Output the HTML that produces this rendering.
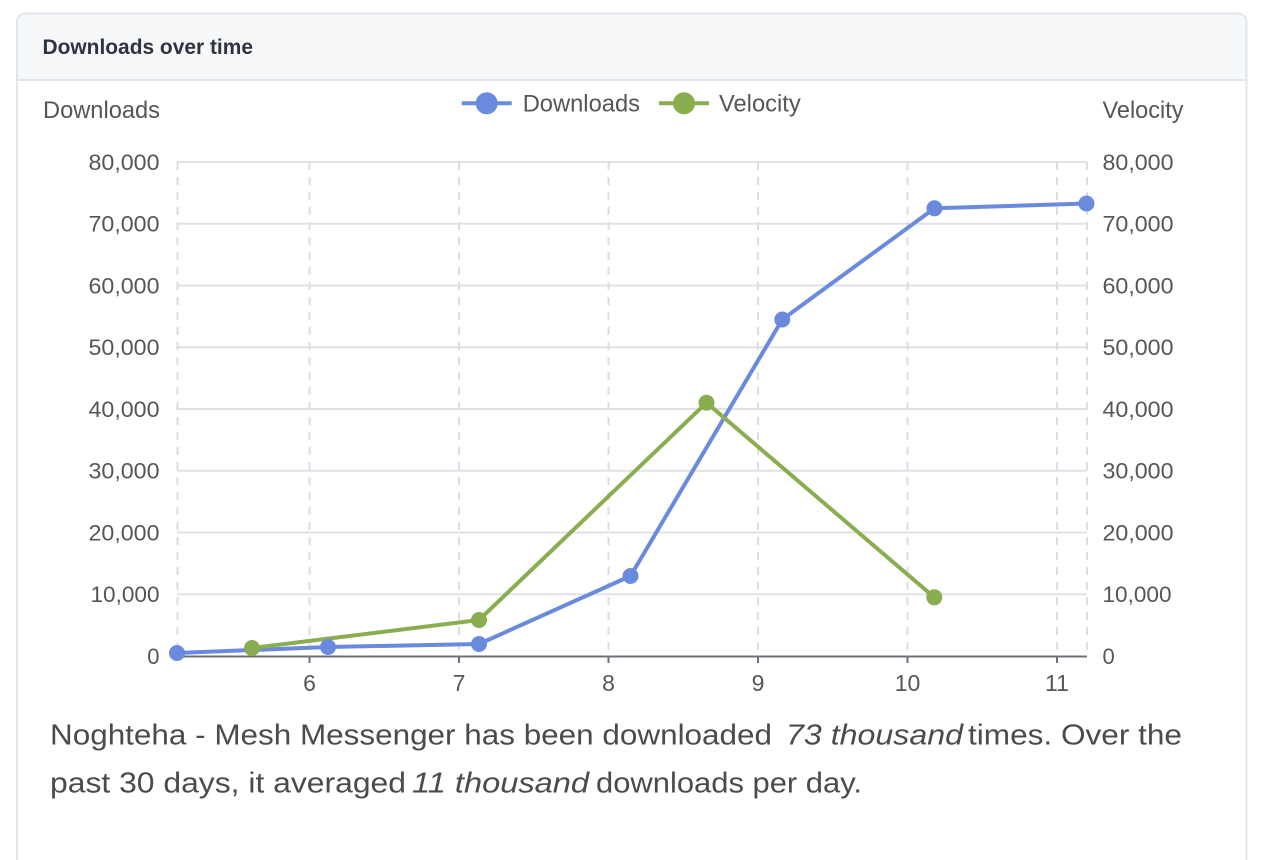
<!DOCTYPE html>
<html>
<head>
<meta charset="utf-8">
<style>
  html,body{margin:0;padding:0;background:#ffffff;}
  body{width:1272px;height:860px;overflow:hidden;}
  svg{display:block;}
  text{font-family:"Liberation Sans", Arial, sans-serif;}
</style>
</head>
<body>
<svg width="1272" height="860" viewBox="0 0 1272 860" xmlns="http://www.w3.org/2000/svg">
  <!-- card -->
  <path d="M17,880 L17,23 Q17,13.5 27,13.5 L1236,13.5 Q1246.5,13.5 1246.5,23 L1246.5,880" fill="#ffffff" stroke="#e1e5ec" stroke-width="2"/>
  <path d="M18,79 L18,23 Q18,14.5 27,14.5 L1236,14.5 Q1245.5,14.5 1245.5,23 L1245.5,79 Z" fill="#f7f8fa"/>
  <line x1="17" y1="80" x2="1246.5" y2="80" stroke="#e1e5ec" stroke-width="2"/>
  <text x="42.5" y="54" font-size="21" font-weight="bold" fill="#2b3441" textLength="210.5" lengthAdjust="spacingAndGlyphs">Downloads over time</text>

  <!-- axis names -->
  <text x="43" y="118" font-size="24" fill="#555659" textLength="117" lengthAdjust="spacingAndGlyphs">Downloads</text>
  <text x="1102.5" y="118" font-size="24" fill="#555659" textLength="81" lengthAdjust="spacingAndGlyphs">Velocity</text>

  <!-- legend -->
  <line x1="461.7" y1="103.3" x2="511.7" y2="103.3" stroke="#6a8ade" stroke-width="4"/>
  <circle cx="486.7" cy="103.3" r="11" fill="#6a8ade"/>
  <text x="522.7" y="111.5" font-size="24" fill="#555659" textLength="117.3" lengthAdjust="spacingAndGlyphs">Downloads</text>
  <line x1="659" y1="103.3" x2="709" y2="103.3" stroke="#8aad50" stroke-width="4"/>
  <circle cx="684" cy="103.3" r="11" fill="#8aad50"/>
  <text x="719" y="111.5" font-size="24" fill="#555659" textLength="81.7" lengthAdjust="spacingAndGlyphs">Velocity</text>

  <!-- horizontal grid -->
  <g stroke="#e0e2e8" stroke-width="2">
    <line x1="177" y1="162" x2="1087" y2="162"/>
    <line x1="177" y1="223.75" x2="1087" y2="223.75"/>
    <line x1="177" y1="285.5" x2="1087" y2="285.5"/>
    <line x1="177" y1="347.25" x2="1087" y2="347.25"/>
    <line x1="177" y1="409" x2="1087" y2="409"/>
    <line x1="177" y1="470.75" x2="1087" y2="470.75"/>
    <line x1="177" y1="532.5" x2="1087" y2="532.5"/>
    <line x1="177" y1="594.25" x2="1087" y2="594.25"/>
  </g>
  <!-- vertical dashed grid -->
  <g stroke="#dcdee4" stroke-width="2" stroke-dasharray="8,7">
    <line x1="177.5" y1="162" x2="177.5" y2="656"/>
    <line x1="309.5" y1="162" x2="309.5" y2="656"/>
    <line x1="459" y1="162" x2="459" y2="656"/>
    <line x1="608.5" y1="162" x2="608.5" y2="656"/>
    <line x1="758" y1="162" x2="758" y2="656"/>
    <line x1="907.5" y1="162" x2="907.5" y2="656"/>
    <line x1="1057" y1="162" x2="1057" y2="656"/>
    <line x1="1087" y1="162" x2="1087" y2="656"/>
  </g>
  <!-- x axis -->
  <line x1="177" y1="656.5" x2="1087" y2="656.5" stroke="#6e7079" stroke-width="2"/>
  <g stroke="#6e7079" stroke-width="2">
    <line x1="309.5" y1="656" x2="309.5" y2="663"/>
    <line x1="459" y1="656" x2="459" y2="663"/>
    <line x1="608.5" y1="656" x2="608.5" y2="663"/>
    <line x1="758" y1="656" x2="758" y2="663"/>
    <line x1="907.5" y1="656" x2="907.5" y2="663"/>
    <line x1="1057" y1="656" x2="1057" y2="663"/>
  </g>
  <g font-size="23" fill="#555659" text-anchor="middle">
    <text x="309.5" y="691">6</text>
    <text x="459" y="691">7</text>
    <text x="608.5" y="691">8</text>
    <text x="758" y="691">9</text>
    <text x="907.5" y="691">10</text>
    <text x="1057" y="691">11</text>
  </g>

  <!-- left y labels -->
  <g font-size="22" fill="#555659" text-anchor="end">
    <text x="159.5" y="170" textLength="71" lengthAdjust="spacingAndGlyphs">80,000</text>
    <text x="159.5" y="231.5" textLength="71" lengthAdjust="spacingAndGlyphs">70,000</text>
    <text x="159.5" y="293.5" textLength="71" lengthAdjust="spacingAndGlyphs">60,000</text>
    <text x="159.5" y="355" textLength="71" lengthAdjust="spacingAndGlyphs">50,000</text>
    <text x="159.5" y="417" textLength="71" lengthAdjust="spacingAndGlyphs">40,000</text>
    <text x="159.5" y="478.5" textLength="71" lengthAdjust="spacingAndGlyphs">30,000</text>
    <text x="159.5" y="540.5" textLength="71" lengthAdjust="spacingAndGlyphs">20,000</text>
    <text x="159.5" y="602" textLength="69" lengthAdjust="spacingAndGlyphs">10,000</text>
    <text x="159.5" y="664">0</text>
  </g>
  <!-- right y labels -->
  <g font-size="22" fill="#555659" text-anchor="start">
    <text x="1102.5" y="170" textLength="71" lengthAdjust="spacingAndGlyphs">80,000</text>
    <text x="1102.5" y="231.5" textLength="71" lengthAdjust="spacingAndGlyphs">70,000</text>
    <text x="1102.5" y="293.5" textLength="71" lengthAdjust="spacingAndGlyphs">60,000</text>
    <text x="1102.5" y="355" textLength="71" lengthAdjust="spacingAndGlyphs">50,000</text>
    <text x="1102.5" y="417" textLength="71" lengthAdjust="spacingAndGlyphs">40,000</text>
    <text x="1102.5" y="478.5" textLength="71" lengthAdjust="spacingAndGlyphs">30,000</text>
    <text x="1102.5" y="540.5" textLength="71" lengthAdjust="spacingAndGlyphs">20,000</text>
    <text x="1102.5" y="602" textLength="69" lengthAdjust="spacingAndGlyphs">10,000</text>
    <text x="1102.5" y="664">0</text>
  </g>

  <!-- series: downloads -->
  <polyline points="177,653 328,647 479,644 630.5,576 782.3,319.5 934.5,208.3 1086.5,203.5" fill="none" stroke="#6a8ade" stroke-width="4" stroke-linejoin="round"/>
  <!-- series: velocity -->
  <polyline points="252,648 479,620 706.5,402.7 934.3,597.3" fill="none" stroke="#8aad50" stroke-width="4" stroke-linejoin="round"/>
  <g fill="#6a8ade">
    <circle cx="177" cy="653" r="8"/>
    <circle cx="328" cy="647" r="8"/>
    <circle cx="479" cy="644" r="8"/>
    <circle cx="630.5" cy="576" r="8"/>
    <circle cx="782.3" cy="319.5" r="8"/>
    <circle cx="934.5" cy="208.3" r="8"/>
    <circle cx="1086.5" cy="203.5" r="8"/>
  </g>
  <g fill="#8aad50">
    <circle cx="252" cy="648" r="8"/>
    <circle cx="479" cy="620" r="8"/>
    <circle cx="706.5" cy="402.7" r="8"/>
    <circle cx="934.3" cy="597.3" r="8"/>
  </g>

  <!-- description -->
  <g font-size="29" fill="#4a4b4d">
    <text x="50" y="744.5" textLength="722" lengthAdjust="spacingAndGlyphs">Noghteha - Mesh Messenger has been downloaded</text>
    <text x="786" y="744.5" font-style="italic" textLength="177" lengthAdjust="spacingAndGlyphs">73 thousand</text>
    <text x="968" y="744.5" textLength="214" lengthAdjust="spacingAndGlyphs">times. Over the</text>
    <text x="50" y="792.5" textLength="356" lengthAdjust="spacingAndGlyphs">past 30 days, it averaged</text>
    <text x="412" y="792.5" font-style="italic" textLength="177" lengthAdjust="spacingAndGlyphs">11 thousand</text>
    <text x="596" y="792.5" textLength="266" lengthAdjust="spacingAndGlyphs">downloads per day.</text>
  </g>
</svg>
</body>
</html>
